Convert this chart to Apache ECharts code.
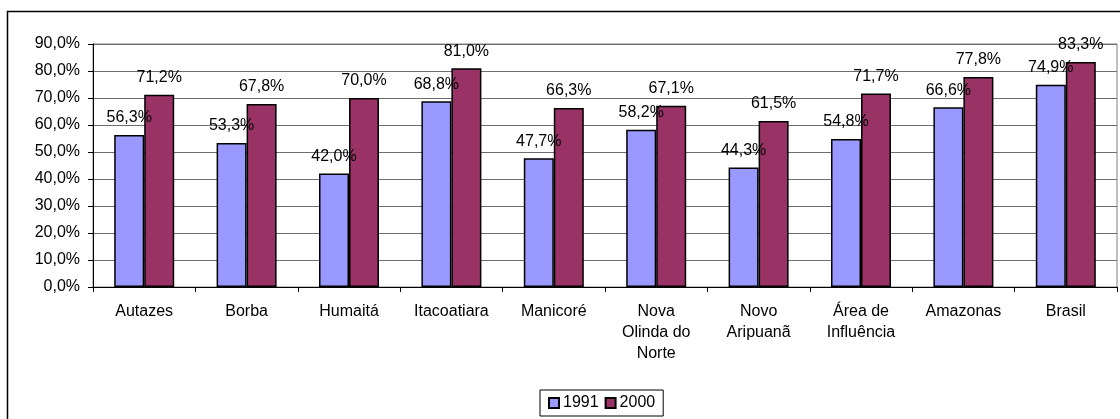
<!DOCTYPE html>
<html>
<head>
<meta charset="utf-8">
<script src="https://cdn.jsdelivr.net/npm/echarts@6/dist/echarts.min.js"></script>
<style>
  html, body { margin: 0; padding: 0; background: #fff; }
  #chart { width: 1120px; height: 419px; }
</style>
</head>
<body>
<div id="chart"></div>
<script>
// Municipalities and reference regions
const categories = [
  'Autazes', 'Borba', 'Humaitá', 'Itacoatiara', 'Manicoré',
  'Nova\nOlinda do\nNorte', 'Novo\nAripuanã', 'Área de\nInfluência', 'Amazonas', 'Brasil'
];
// Percent values per census year
const values1991 = [56.3, 53.3, 42.0, 68.8, 47.7, 58.2, 44.3, 54.8, 66.6, 74.9];
const values2000 = [71.2, 67.8, 70.0, 81.0, 66.3, 67.1, 61.5, 71.7, 77.8, 83.3];
const seriesNames = ['1991', '2000'];

const FONT = '"Liberation Sans", Arial, sans-serif';
const FS = 16;
const pct = v => Number(v).toFixed(1).replace('.', ',') + '%';

const chart = echarts.init(document.getElementById('chart'), null, { renderer: 'canvas' });

const labelStyle = {
  show: true,
  position: 'top',
  distance: 9,
  color: '#000',
  fontFamily: FONT,
  fontSize: FS,
  formatter: p => pct(p.value)
};

chart.setOption({
  animation: false,
  backgroundColor: '#fff',
  textStyle: { fontFamily: FONT },
  graphic: [{
    type: 'rect',
    shape: { x: 7.5, y: 11.5, width: 1130, height: 430 },
    style: { fill: 'none', stroke: '#000', lineWidth: 1.5 },
    silent: true
  }],
  grid: {
    left: 93, right: 3, top: 44, bottom: 132,
    show: true, borderColor: '#808080', borderWidth: 1, backgroundColor: 'transparent'
  },
  legend: {
    data: seriesNames,
    left: 540, top: 390,
    orient: 'horizontal',
    padding: [5, 8, 5, 8],
    itemGap: 6,
    itemWidth: 10, itemHeight: 10,
    borderColor: '#000', borderWidth: 1,
    icon: 'rect',
    textStyle: { fontFamily: FONT, fontSize: FS, color: '#000', padding: [0, 0, 0, -1] }
  },
  xAxis: {
    type: 'category',
    data: categories,
    axisLine: { lineStyle: { color: '#000', width: 1 } },
    axisTick: { show: true, length: 5, lineStyle: { color: '#000' } },
    axisLabel: {
      interval: 0, margin: 14, color: '#000',
      fontFamily: FONT, fontSize: FS, lineHeight: 21
    },
    splitLine: { show: false }
  },
  yAxis: {
    type: 'value',
    min: 0, max: 90, interval: 10,
    axisLine: { show: true, lineStyle: { color: '#000', width: 1 } },
    axisTick: { show: true, length: 5, lineStyle: { color: '#000' } },
    axisLabel: {
      margin: 13, color: '#000', fontFamily: FONT, fontSize: FS,
      formatter: v => pct(v)
    },
    splitLine: { show: true, lineStyle: { color: '#6e6e6e', width: 1 } }
  },
  series: [
    {
      name: seriesNames[0],
      type: 'bar',
      data: values1991,
      barWidth: 30,
      barGap: '0%',
      itemStyle: { color: '#9999FF', borderColor: '#000', borderWidth: 1.5 },
      label: labelStyle
    },
    {
      name: seriesNames[1],
      type: 'bar',
      data: values2000,
      barWidth: 30,
      barGap: '0%',
      itemStyle: { color: '#993366', borderColor: '#000', borderWidth: 1.5 },
      label: labelStyle
    }
  ]
});
</script>
</body>
</html>
